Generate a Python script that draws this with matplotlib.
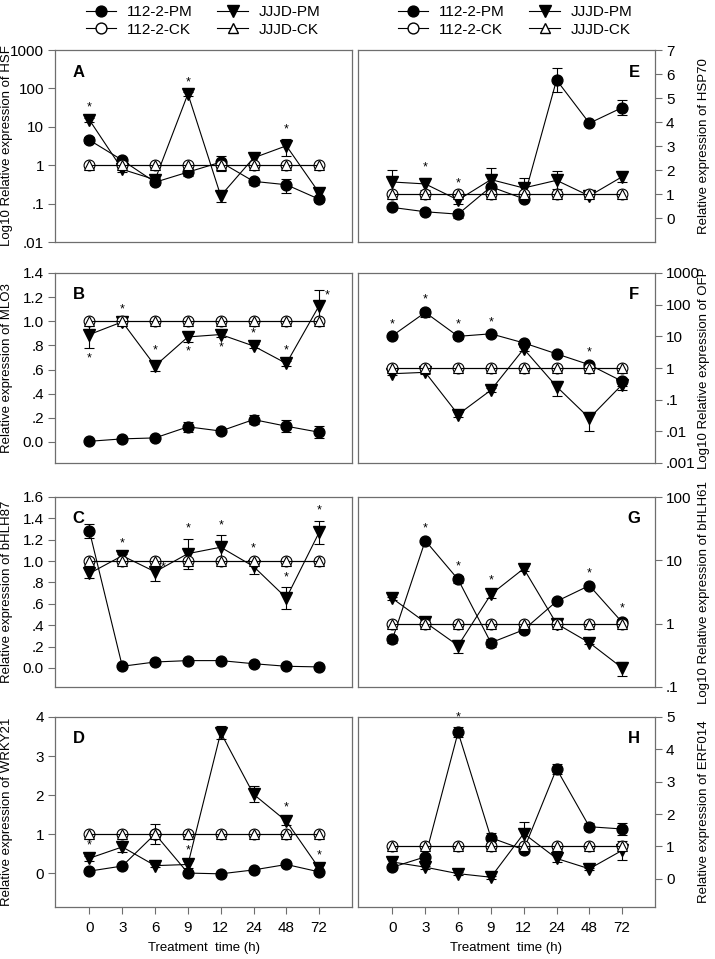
import matplotlib
matplotlib.use("Agg")
import matplotlib.pyplot as plt
from matplotlib.lines import Line2D
import numpy as np

plt.rcParams['font.family'] = ['Liberation Sans', 'DejaVu Sans']

# ---------------- data ----------------
time_labels = ['0', '3', '6', '9', '12', '24', '48', '72']
ck_value = 1.0

# A: HSF (log)
hsf_112_pm = [4.5, 1.35, 0.36, 0.66, 1.2, 0.38, 0.31, 0.13]
hsf_112_pm_err = [0.8, 0.2, 0.05, 0.15, 0.5, 0.07, 0.12, 0.02]
hsf_jjjd_pm = [15, 0.78, 0.42, 72, 0.16, 1.55, 3.2, 0.19]
hsf_jjjd_pm_err = [2, 0.1, 0.05, 8, 0.05, 0.4, 1.5, 0.06]
hsf_stars = [('jjjd', 0, 'above'), ('jjjd', 3, 'above'), ('jjjd', 6, 'above')]

# E: HSP70 (linear)
hsp70_112_pm = [0.44, 0.26, 0.16, 1.3, 0.8, 5.75, 3.95, 4.6]
hsp70_112_pm_err = [0.05, 0.1, 0.15, 0.1, 0.1, 0.5, 0.05, 0.32]
hsp70_jjjd_pm = [1.5, 1.42, 0.75, 1.6, 1.25, 1.57, 0.92, 1.72]
hsp70_jjjd_pm_err = [0.5, 0.25, 0.15, 0.48, 0.4, 0.37, 0.05, 0.2]
hsp70_stars = [('jjjd', 1, 'above'), ('jjjd', 2, 'above')]

# B: MLO3 (linear)
mlo3_112_pm = [0.005, 0.025, 0.033, 0.125, 0.09, 0.185, 0.13, 0.08]
mlo3_112_pm_err = [0.005, 0.01, 0.01, 0.04, 0.01, 0.035, 0.05, 0.05]
mlo3_jjjd_pm = [0.89, 0.995, 0.63, 0.87, 0.89, 0.795, 0.65, 1.13]
mlo3_jjjd_pm_err = [0.11, 0.02, 0.04, 0.04, 0.02, 0.02, 0.02, 0.13]
mlo3_stars = [('jjjd', 0, 'below'), ('jjjd', 1, 'above'), ('jjjd', 2, 'above'),
              ('jjjd', 3, 'below'), ('jjjd', 4, 'below'), ('jjjd', 5, 'above'),
              ('jjjd', 6, 'above'), ('jjjd', 7, 'right')]

# F: OFP (log)
ofp_112_pm = [10.5, 57, 10, 12, 6.2, 2.8, 1.27, 0.38]
ofp_112_pm_err = [1, 15, 1.5, 1, 1, 0.3, 0.2, 0.1]
ofp_jjjd_pm = [0.66, 0.73, 0.034, 0.2, 4, 0.26, 0.026, 0.3]
ofp_jjjd_pm_err = [0.08, 0.08, 0.006, 0.03, 0.5, 0.13, 0.016, 0.1]
ofp_stars = [('112', 0, 'above'), ('112', 1, 'above'), ('112', 2, 'above'),
             ('112', 3, 'above'), ('112', 6, 'above')]

# C: bHLH87 (linear)
bhlh87_112_pm = [1.28, 0.016, 0.056, 0.069, 0.069, 0.04, 0.016, 0.01]
bhlh87_112_pm_err = [0.065, 0.01, 0.01, 0.015, 0.015, 0.02, 0.01, 0.01]
bhlh87_jjjd_pm = [0.885, 1.05, 0.9, 1.07, 1.13, 0.95, 0.655, 1.27]
bhlh87_jjjd_pm_err = [0.04, 0.02, 0.09, 0.14, 0.11, 0.07, 0.1, 0.11]
bhlh87_stars = [('jjjd', 1, 'above'), ('jjjd', 2, 'right'), ('jjjd', 3, 'above'),
                ('jjjd', 4, 'above'), ('jjjd', 5, 'above'), ('jjjd', 6, 'above'),
                ('jjjd', 7, 'above')]

# G: bHLH61 (log)
bhlh61_112_pm = [0.57, 20.5, 5.0, 0.5, 0.8, 2.25, 4.0, 1.05]
bhlh61_112_pm_err = [0.07, 1.5, 0.6, 0.07, 0.08, 0.15, 0.3, 0.15]
bhlh61_jjjd_pm = [2.5, 1.05, 0.45, 2.9, 7.4, 1.0, 0.5, 0.2]
bhlh61_jjjd_pm_err = [0.15, 0.1, 0.1, 0.4, 0.6, 0.1, 0.03, 0.05]
bhlh61_stars = [('112', 1, 'above'), ('112', 2, 'above'), ('jjjd', 3, 'above'),
                ('112', 6, 'above'), ('112', 7, 'above')]

# D: WRKY21 (linear)
wrky21_112_pm = [0.05, 0.18, 1.0, 0.0, -0.02, 0.08, 0.22, 0.03]
wrky21_112_pm_err = [0.05, 0.05, 0.25, 0.04, 0.03, 0.05, 0.05, 0.05]
wrky21_jjjd_pm = [0.38, 0.67, 0.19, 0.22, 3.6, 2.02, 1.33, 0.12]
wrky21_jjjd_pm_err = [0.07, 0.12, 0.04, 0.1, 0.17, 0.2, 0.1, 0.08]
wrky21_stars = [('jjjd', 0, 'above'), ('jjjd', 3, 'above'), ('jjjd', 6, 'above'),
                ('jjjd', 7, 'above')]

# H: ERF014 (linear)
erf014_112_pm = [0.36, 0.68, 4.53, 1.27, 0.9, 3.4, 1.61, 1.54]
erf014_112_pm_err = [0.05, 0.05, 0.15, 0.15, 0.08, 0.15, 0.1, 0.18]
erf014_jjjd_pm = [0.52, 0.36, 0.16, 0.05, 1.4, 0.63, 0.31, 0.88]
erf014_jjjd_pm_err = [0.1, 0.05, 0.05, 0.05, 0.37, 0.1, 0.04, 0.3]
erf014_stars = [('112', 2, 'above')]

series_labels = ['112-2-PM', '112-2-CK', 'JJJD-PM', 'JJJD-CK']

# ---------------- figure ----------------
W, H = 715, 959
fig = plt.figure(figsize=(W / 100, H / 100), dpi=100)

def rect(x0, x1, y0, y1):
    return [x0 / W, 1 - y1 / H, (x1 - x0) / W, (y1 - y0) / H]

cols = {'L': (55, 352), 'R': (358, 655)}
rows = [(50, 242), (273, 463), (497, 687), (717, 907)]

SPINE = '#6e6e6e'
MS_C = 7.8
MS_T = 8.2
TICK_FS = 11
YLAB_FS = 9.5

def fmt_num(v):
    s = ('%g' % v)
    if s.startswith('0.'):
        s = s[1:]
    return s

def panel(col, row, letter, ylabel, pm112, e112, pmj, ej, stars, log,
          ylim, yticks, yticklabels, bottom=False):
    x0, x1 = cols[col]
    y0, y1 = rows[row]
    ax = fig.add_axes(rect(x0, x1, y0, y1))
    x = np.arange(len(time_labels))
    n = len(x)
    ck = [ck_value] * n
    if log:
        ax.set_yscale('log')
    ekw = dict(ecolor='black', elinewidth=0.8, capsize=3.8, capthick=0.8)
    ax.errorbar(x, pm112, yerr=e112, color='black', lw=0.8, marker='o',
                ms=MS_C, mfc='black', mec='black', zorder=3, **ekw)
    ax.errorbar(x, pmj, yerr=ej, color='black', lw=0.8, marker='v',
                ms=MS_T, mfc='black', mec='black', zorder=4, **ekw)
    ax.plot(x, ck, color='black', lw=0.8, marker='o', ms=MS_C, mfc='white',
            mec='black', mew=0.8, zorder=5)
    ax.plot(x, ck, color='black', lw=0.8, marker='^', ms=MS_T - 1.2, mfc='white',
            mec='black', mew=0.8, zorder=6)
    ax.set_xlim(-1.05, 8.0)
    ax.set_ylim(*ylim)
    ax.set_yticks(yticks)
    ax.set_yticklabels(yticklabels)
    ax.minorticks_off()
    for s in ax.spines.values():
        s.set_color(SPINE)
        s.set_linewidth(0.9)
    ax.tick_params(axis='y', length=5, width=0.8, color=SPINE, labelsize=TICK_FS,
                   pad=3, direction='out')
    if col == 'R':
        ax.yaxis.tick_right()
        ax.yaxis.set_label_position('right')
        ax.set_ylabel(ylabel, fontsize=YLAB_FS, rotation=90)
        ax.yaxis.set_label_coords(1.145, 0.5)
        ax.text(0.93, 0.885, letter, transform=ax.transAxes, fontsize=12,
                fontweight='bold', ha='center', va='center')
    else:
        ax.set_ylabel(ylabel, fontsize=YLAB_FS)
        ax.yaxis.set_label_coords(-0.14, 0.5)
        ax.text(0.08, 0.885, letter, transform=ax.transAxes, fontsize=12,
                fontweight='bold', ha='center', va='center')
    ax.set_xticks(x)
    if bottom:
        ax.set_xticklabels(time_labels)
        ax.tick_params(axis='x', length=5, width=0.8, color=SPINE,
                       labelsize=TICK_FS, pad=5, direction='out')
        ax.set_xlabel('Treatment  time (h)', fontsize=9.5, labelpad=5)
    else:
        ax.tick_params(axis='x', bottom=False, labelbottom=False)

    # significance stars
    for which, idx, pos in stars:
        v = pm112[idx] if which == '112' else pmj[idx]
        e = e112[idx] if which == '112' else ej[idx]
        if pos == 'above':
            top = v + e
            cdisp = ax.transData.transform((idx, ck_value))[1]
            vdisp = ax.transData.transform((idx, v))[1]
            if abs(cdisp - vdisp) < 14 and ck_value > top:
                top = ck_value
            ax.annotate('*', (idx, top), xytext=(0, 3), textcoords='offset points',
                        ha='center', va='bottom', fontsize=9)
        elif pos == 'below':
            bot = v - e
            ax.annotate('*', (idx, bot), xytext=(0, -3), textcoords='offset points',
                        ha='center', va='top', fontsize=9)
        else:
            ax.annotate('*', (idx, v + e), xytext=(6, -8), textcoords='offset points',
                        ha='center', va='bottom', fontsize=9)
    return ax

log_A = [0.01, 0.1, 1, 10, 100, 1000]
panel('L', 0, 'A', 'Log10 Relative expression of HSF', hsf_112_pm, hsf_112_pm_err,
      hsf_jjjd_pm, hsf_jjjd_pm_err, hsf_stars, True, (0.01, 1000), log_A,
      [fmt_num(v) for v in log_A])

lin_E = [0, 1, 2, 3, 4, 5, 6, 7]
panel('R', 0, 'E', 'Relative expression of HSP70', hsp70_112_pm, hsp70_112_pm_err,
      hsp70_jjjd_pm, hsp70_jjjd_pm_err, hsp70_stars, False, (-1, 7), lin_E,
      [str(v) for v in lin_E])

lin_B = [0.0, 0.2, 0.4, 0.6, 0.8, 1.0, 1.2, 1.4]
lab_B = ['0.0', '.2', '.4', '.6', '.8', '1.0', '1.2', '1.4']
panel('L', 1, 'B', 'Relative expression of MLO3', mlo3_112_pm, mlo3_112_pm_err,
      mlo3_jjjd_pm, mlo3_jjjd_pm_err, mlo3_stars, False, (-0.175, 1.4), lin_B, lab_B)

log_F = [0.001, 0.01, 0.1, 1, 10, 100, 1000]
panel('R', 1, 'F', 'Log10 Relative expression of OFP', ofp_112_pm, ofp_112_pm_err,
      ofp_jjjd_pm, ofp_jjjd_pm_err, ofp_stars, True, (0.001, 1000), log_F,
      [fmt_num(v) for v in log_F])

lin_C = [0.0, 0.2, 0.4, 0.6, 0.8, 1.0, 1.2, 1.4, 1.6]
lab_C = ['0.0', '.2', '.4', '.6', '.8', '1.0', '1.2', '1.4', '1.6']
panel('L', 2, 'C', 'Relative expression of bHLH87', bhlh87_112_pm, bhlh87_112_pm_err,
      bhlh87_jjjd_pm, bhlh87_jjjd_pm_err, bhlh87_stars, False, (-0.178, 1.6), lin_C, lab_C)

log_G = [0.1, 1, 10, 100]
panel('R', 2, 'G', 'Log10 Relative expression of bHLH61', bhlh61_112_pm, bhlh61_112_pm_err,
      bhlh61_jjjd_pm, bhlh61_jjjd_pm_err, bhlh61_stars, True, (0.1, 100), log_G,
      [fmt_num(v) for v in log_G])

lin_D = [0, 1, 2, 3, 4]
panel('L', 3, 'D', 'Relative expression of WRKY21', wrky21_112_pm, wrky21_112_pm_err,
      wrky21_jjjd_pm, wrky21_jjjd_pm_err, wrky21_stars, False, (-0.87, 4), lin_D,
      [str(v) for v in lin_D], bottom=True)

lin_H = [0, 1, 2, 3, 4, 5]
panel('R', 3, 'H', 'Relative expression of ERF014', erf014_112_pm, erf014_112_pm_err,
      erf014_jjjd_pm, erf014_jjjd_pm_err, erf014_stars, False, (-0.87, 5), lin_H,
      [str(v) for v in lin_H], bottom=True)

# legends
def handles():
    return [
        Line2D([], [], color='black', lw=0.8, marker='o', ms=MS_C, mfc='black', mec='black'),
        Line2D([], [], color='black', lw=0.8, marker='o', ms=MS_C, mfc='white', mec='black'),
        Line2D([], [], color='black', lw=0.8, marker='v', ms=MS_T, mfc='black', mec='black'),
        Line2D([], [], color='black', lw=0.8, marker='^', ms=MS_T - 1, mfc='white', mec='black'),
    ]

for cx in (203 / W, 515 / W):
    fig.legend(handles(), series_labels, ncol=2, loc='center', bbox_to_anchor=(cx, 1 - 21 / H),
               frameon=False, fontsize=11, handlelength=2.0, handletextpad=0.7,
               columnspacing=1.6, labelspacing=0.2, borderpad=0.2)

fig.savefig('out.png', dpi=100)
